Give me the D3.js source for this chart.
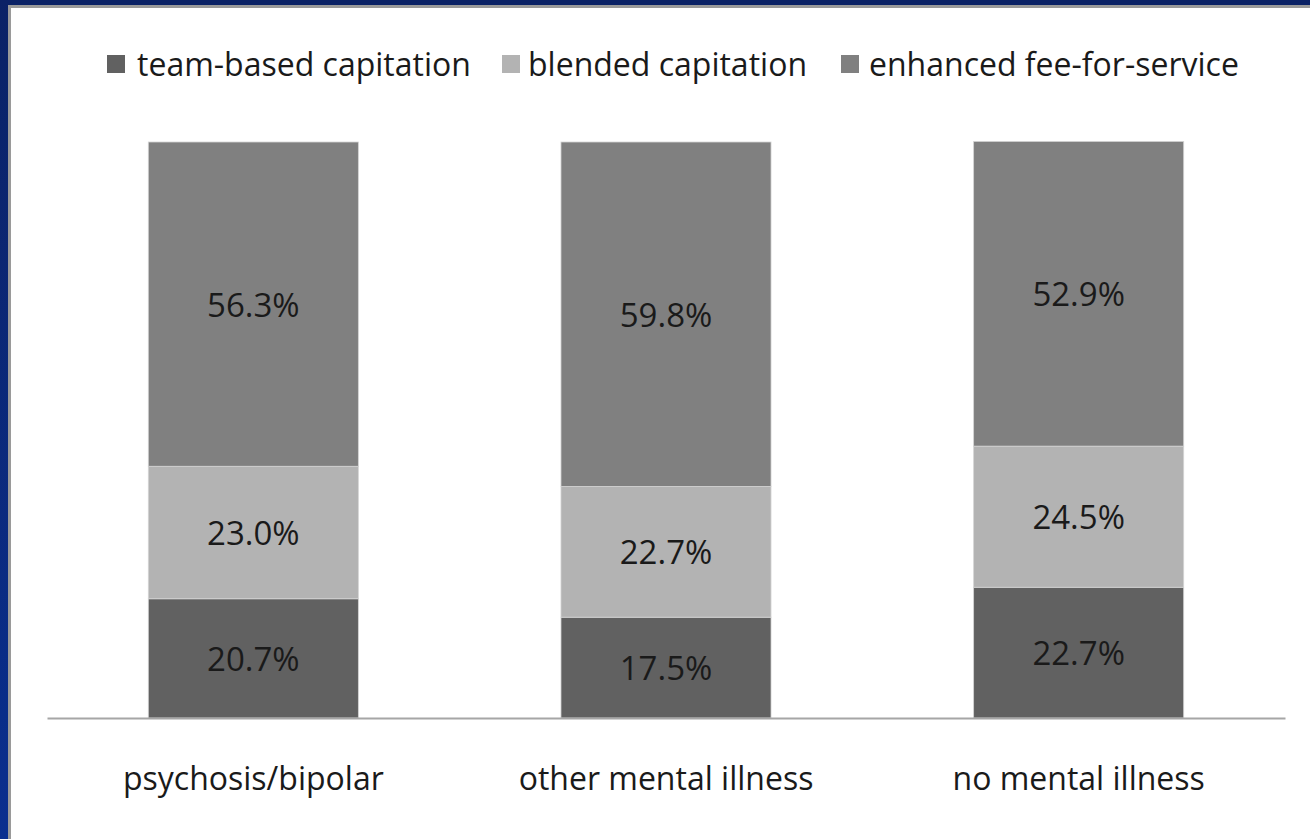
<!DOCTYPE html>
<html>
<head>
<meta charset="utf-8">
<script src="https://cdn.jsdelivr.net/npm/d3@7"></script>
<style>
  html, body { margin: 0; padding: 0; background: #ffffff; }
  svg { display: block; }
  text { font-variant-ligatures: none; }
</style>
</head>
<body>
<svg id="chart" width="1310" height="839"></svg>
<script>
// Payment model shares by patient group (percent)
const categories = ["psychosis/bipolar", "other mental illness", "no mental illness"];
const seriesNames = ["team-based capitation", "blended capitation", "enhanced fee-for-service"];
const teamBased = [20.7, 17.5, 22.7];
const blended = [23.0, 22.7, 24.5];
const enhancedFFS = [56.3, 59.8, 52.9];
const seriesColors = ["#616161", "#b3b3b3", "#808080"];

const W = 1310, H = 839;
const svg = d3.select("#chart");
const FONT = "'Open Sans', Lato, sans-serif";

// Slide frame: blue band on top and left with a thin grey inner rule
const grad = svg.append("defs").append("linearGradient")
  .attr("id", "frameBlue").attr("x1", 0).attr("y1", 0).attr("x2", 0).attr("y2", 1);
grad.append("stop").attr("offset", "0%").attr("stop-color", "#0b2266");
grad.append("stop").attr("offset", "100%").attr("stop-color", "#0a2f8f");
svg.append("rect").attr("x", 0).attr("y", 0).attr("width", W).attr("height", H).attr("fill", "#ffffff");
svg.append("rect").attr("x", 0).attr("y", 0).attr("width", W).attr("height", 5).attr("fill", "#0b2266");
svg.append("rect").attr("x", 0).attr("y", 0).attr("width", 8).attr("height", H).attr("fill", "url(#frameBlue)");
svg.append("rect").attr("x", 8).attr("y", 5).attr("width", W - 8).attr("height", 3).attr("fill", "#9a9a9a");
svg.append("rect").attr("x", 8).attr("y", 5).attr("width", 3).attr("height", H - 5).attr("fill", "#9a9a9a");

// Stack the three series
const rows = categories.map((c, i) => ({
  cat: c,
  [seriesNames[0]]: teamBased[i],
  [seriesNames[1]]: blended[i],
  [seriesNames[2]]: enhancedFFS[i]
}));
const stacked = d3.stack().keys(seriesNames)(rows);

const x = d3.scaleBand().domain(categories).range([47, 1285])
  .paddingInner(0.491).paddingOuter(0.2455);
const y = d3.scaleLinear().domain([0, 100]).range([718, 142]);
const color = d3.scaleOrdinal().domain(seriesNames).range(seriesColors);

const layers = svg.append("g").selectAll("g").data(stacked).join("g")
  .attr("fill", d => color(d.key));

layers.selectAll("rect").data(d => d).join("rect")
  .attr("x", d => x(d.data.cat))
  .attr("y", d => y(d[1]))
  .attr("width", x.bandwidth())
  .attr("height", d => y(d[0]) - y(d[1]))
  .attr("stroke", "#d4d4d4")
  .attr("stroke-width", 0.8);

// Value labels centred in each segment
layers.selectAll("text").data(d => d).join("text")
  .attr("x", d => x(d.data.cat) + x.bandwidth() / 2)
  .attr("y", d => (y(d[0]) + y(d[1])) / 2)
  .attr("text-anchor", "middle")
  .attr("dominant-baseline", "central")
  .attr("font-family", FONT)
  .attr("font-size", 33)
  .attr("fill", "#1a1a1a")
  .text(d => (d[1] - d[0]).toFixed(1) + "%");

// Category axis
const xAxis = svg.append("g").attr("transform", "translate(0,718)")
  .call(d3.axisBottom(x).tickSize(0).tickPadding(49));
xAxis.select(".domain").attr("stroke", "#a6a6a6").attr("stroke-width", 2);
xAxis.selectAll("text")
  .attr("font-family", FONT)
  .attr("font-size", 32)
  .attr("fill", "#1a1a1a");

// Legend
const legendX = [107, 502, 841];
const legendTextX = [137, 528, 869];
const legend = svg.append("g").selectAll("g").data(seriesNames).join("g");
legend.append("rect")
  .attr("x", (d, i) => legendX[i]).attr("y", 55).attr("width", 18).attr("height", 18)
  .attr("fill", d => color(d));
legend.append("text")
  .attr("x", (d, i) => legendTextX[i]).attr("y", 63)
  .attr("dominant-baseline", "central")
  .attr("font-family", FONT)
  .attr("font-size", 32)
  .attr("fill", "#1a1a1a")
  .text(d => d);
</script>
</body>
</html>
